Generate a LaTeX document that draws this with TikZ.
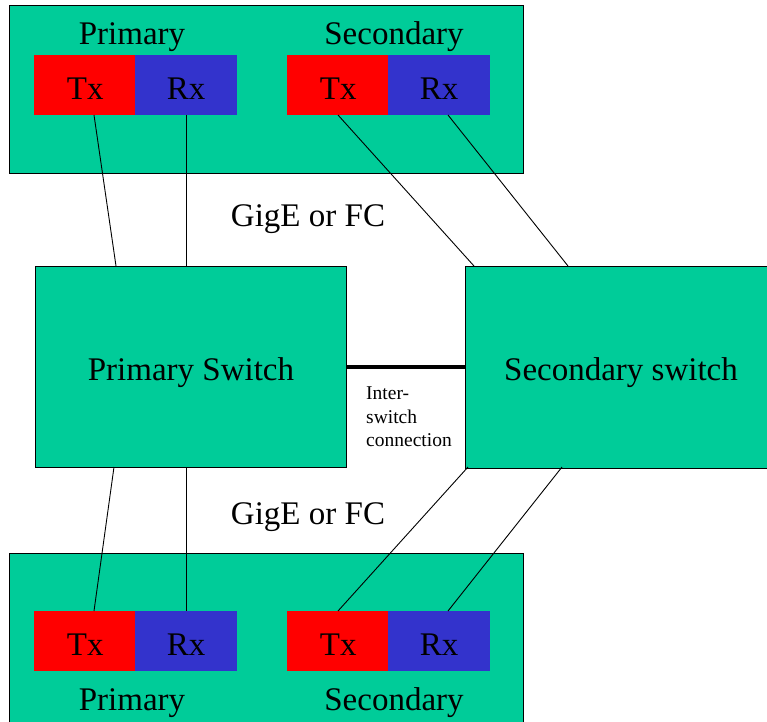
\documentclass[tikz,border=0pt]{standalone}
\usepackage{fontspec}
\setmainfont{Liberation Serif}
\definecolor{panelc}{RGB}{0,204,153}
\definecolor{txred}{RGB}{255,0,0}
\definecolor{rxblue}{RGB}{51,51,204}
\begin{document}
\begin{tikzpicture}[x=1pt,y=-1pt,
  big/.style={font=\fontsize{33}{38}\selectfont},
  small/.style={font=\fontsize{19.5}{22}\selectfont},
  panel/.style={draw=black, line width=1pt, fill=panelc, anchor=north west, inner sep=0pt},
  card/.style={panel, minimum width=514pt, minimum height=168pt},
  switchbox/.style={panel, minimum width=311pt, minimum height=201pt, text height=114pt, text depth=87pt, big},
  portbox/.style={anchor=north west, inner sep=0pt, minimum width=102pt, minimum height=60pt, text height=44pt, text depth=16pt, big},
  txport/.style={portbox, fill=txred},
  rxport/.style={portbox, fill=rxblue},
  lbl/.style={anchor=base, inner sep=0pt, big},
  link/.style={draw=black, line width=0.9pt}]
\useasboundingbox (0,0) rectangle (767,721);
\clip (0,0) rectangle (767,721);

% top card
\node[card] (topcard) at (9,5) {};
\node[lbl] (toppri) at (132,44) {Primary};
\node[lbl] (topsec) at (394,44) {Secondary};
\node[txport] (ttx1) at (34,55) {Tx};
\node[rxport] (trx1) at (135,55) {Rx};
\node[txport] (ttx2) at (287,55) {Tx};
\node[rxport] (trx2) at (388,55) {Rx};

% bottom card (runs past the lower edge)
\node[card, minimum height=185pt] (botcard) at (9,553) {};
\node[lbl] (botpri) at (132,710) {Primary};
\node[lbl] (botsec) at (394,710) {Secondary};
\node[txport] (btx1) at (34,611) {Tx};
\node[rxport] (brx1) at (135,611) {Rx};
\node[txport] (btx2) at (287,611) {Tx};
\node[rxport] (brx2) at (388,611) {Rx};

% switches
\node[switchbox] (psw) at (35,266) {Primary Switch};
\node[switchbox, draw=none] (ssw) at (465,266) {Secondary switch};
\draw[line width=1pt] (ssw.north east) -- (ssw.north west) -- (ssw.south west) -- (ssw.south east);

% labels
\node[lbl] (gig1) at (308,226) {GigE or FC};
\node[lbl] (gig2) at (308,524) {GigE or FC};
\node[small, anchor=base west, inner sep=0pt] (isl1) at (366,399) {Inter-};
\node[small, anchor=base west, inner sep=0pt] (isl2) at (366,423) {switch};
\node[small, anchor=base west, inner sep=0pt] (isl3) at (366,446) {connection};

% connector end points
\coordinate (a1) at (94,115);  \coordinate (a2) at (116,266);
\coordinate (b1) at (186,115); \coordinate (b2) at (186,266);
\coordinate (c1) at (338,115); \coordinate (c2) at (474,266);
\coordinate (d1) at (448,115); \coordinate (d2) at (568,266);
\coordinate (e1) at (94,611);  \coordinate (e2) at (114,467);
\coordinate (f1) at (186,611); \coordinate (f2) at (186,467);
\coordinate (g1) at (338,611); \coordinate (g2) at (468,467);
\coordinate (h1) at (448,611); \coordinate (h2) at (562,467);

\draw[link] (a1) -- (a2);
\draw[link] (b1) -- (b2);
\draw[link] (c1) -- (c2);
\draw[link] (d1) -- (d2);
\draw[link] (e1) -- (e2);
\draw[link] (f1) -- (f2);
\draw[link] (g1) -- (g2);
\draw[link] (h1) -- (h2);

\draw[line width=4.5pt] (psw.east |- 0,367) -- (ssw.west |- 0,367);
\end{tikzpicture}
\end{document}
